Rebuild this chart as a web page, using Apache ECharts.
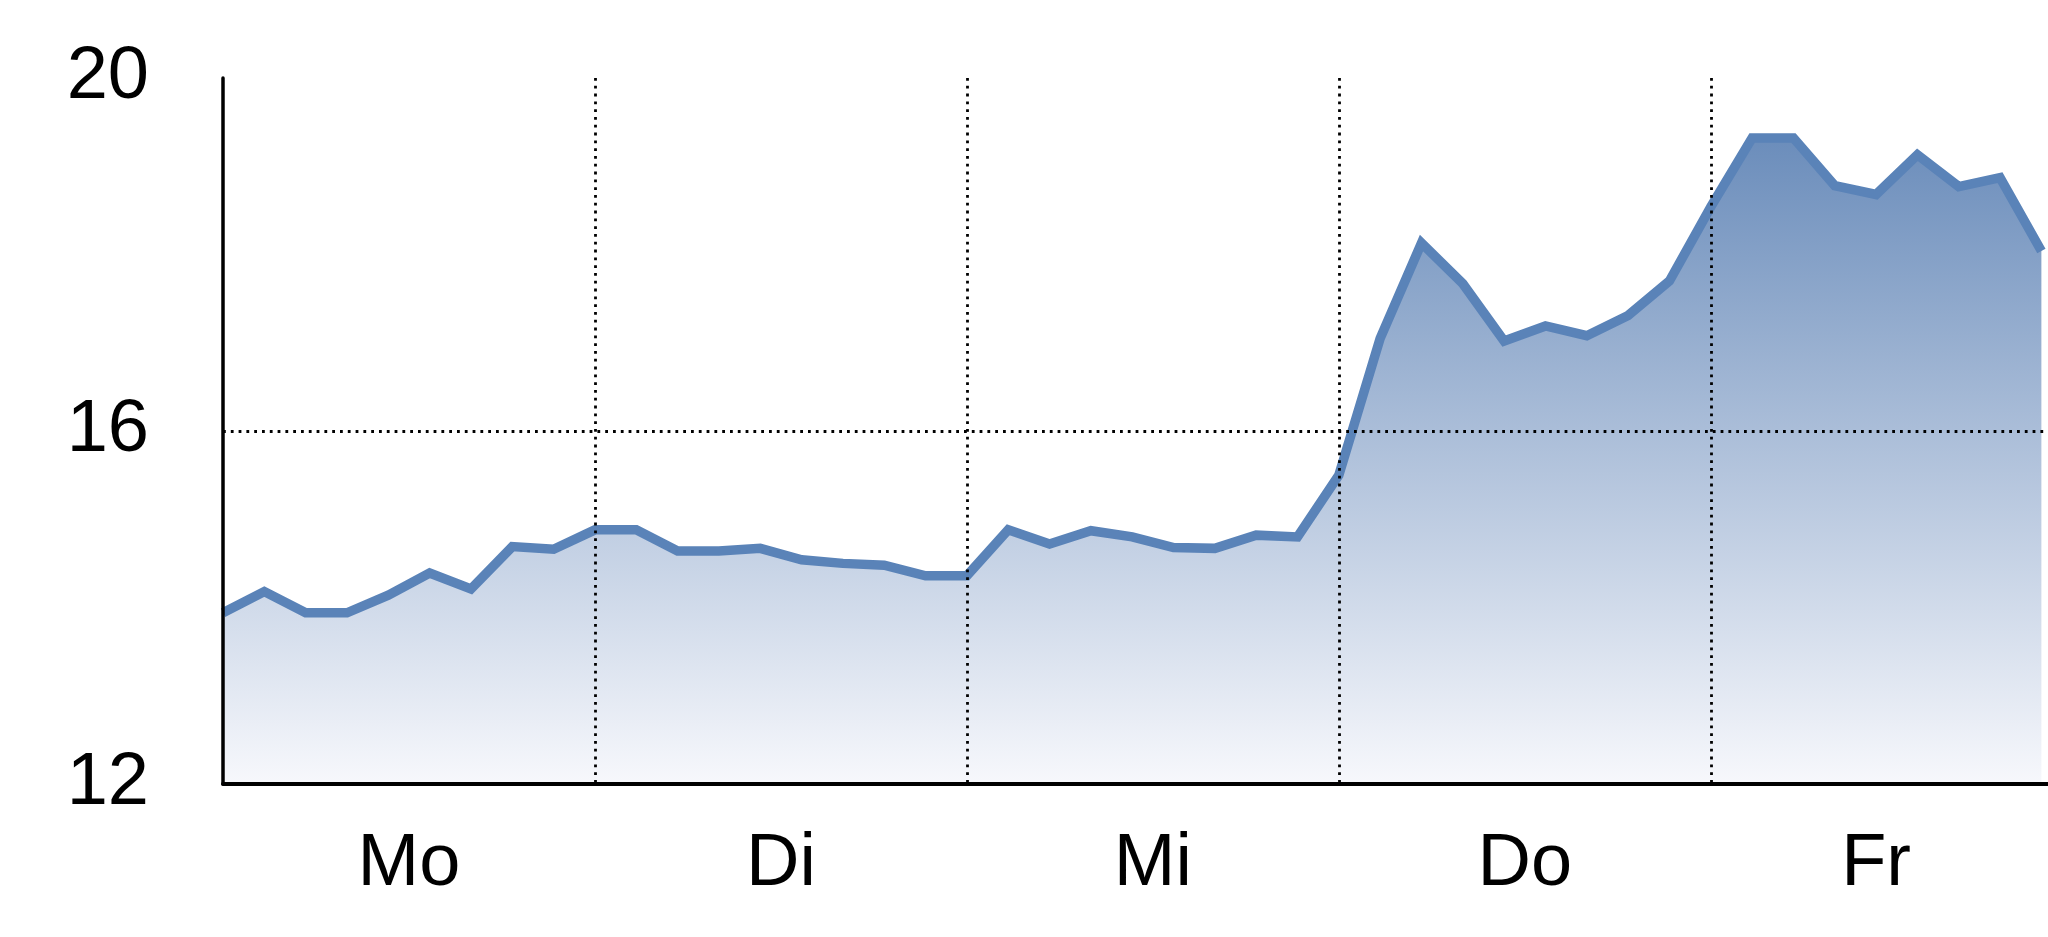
<!DOCTYPE html>
<html>
<head>
<meta charset="utf-8">
<script src="https://cdn.jsdelivr.net/npm/echarts@6/dist/echarts.min.js"></script>
<style>
html,body{margin:0;padding:0;background:#ffffff;}
#chart{width:2048px;height:937px;}
</style>
</head>
<body>
<div id="chart"></div>
<script>
// ---- data ----
const days = ['Mo', 'Di', 'Mi', 'Do', 'Fr'];
const pointsPerDay = 9;
const values = [
  13.94, 14.18, 13.94, 13.94, 14.14, 14.39, 14.21, 14.69, 14.66,
  14.88, 14.88, 14.64, 14.64, 14.67, 14.54, 14.50, 14.48, 14.36,
  14.36, 14.88, 14.72, 14.87, 14.80, 14.68, 14.67, 14.82, 14.80,
  15.50, 17.05, 18.13, 17.67, 17.02, 17.19, 17.08, 17.31, 17.70,
  18.54, 19.32, 19.32, 18.78, 18.68, 19.13, 18.77, 18.87, 18.04
];
const yTicks = [12, 16, 20];

// ---- derived ----
const lastIndex = values.length - 1;
const seriesData = values.map((v, i) => [i, v]);
const dayCenters = days.map((d, k) => {
  const s = k * pointsPerDay;
  const e = Math.min(s + pointsPerDay, lastIndex);
  return (s + e) / 2;
});
const font = "'Liberation Sans Narrow', 'Arial Narrow', 'Liberation Sans', Arial, sans-serif";
const dotted = { color: '#000', width: 2.8, type: [2.8, 5.0] };

const chart = echarts.init(document.getElementById('chart'), null, { renderer: 'canvas' });
chart.setOption({
  animation: false,
  backgroundColor: '#ffffff',
  grid: { left: 223, right: 0, top: 78, bottom: 153, containLabel: false },
  xAxis: {
    type: 'value',
    min: 0,
    max: lastIndex + 0.16,
    interval: pointsPerDay,
    axisLine: { show: true, lineStyle: { color: '#000', width: 4 } },
    axisTick: { show: false },
    splitLine: { show: true, showMinLine: false, showMaxLine: false, lineStyle: dotted },
    axisLabel: {
      customValues: dayCenters,
      formatter: (val) => {
        const k = dayCenters.findIndex(c => Math.abs(c - val) < 1e-6);
        return k >= 0 ? days[k] : '';
      },
      color: '#000',
      fontSize: 74,
      fontFamily: font,
      margin: 44
    }
  },
  yAxis: {
    type: 'value',
    min: yTicks[0],
    max: yTicks[yTicks.length - 1],
    interval: yTicks[1] - yTicks[0],
    axisLine: { show: true, lineStyle: { color: '#000', width: 3.5 } },
    axisTick: { show: false },
    splitLine: { show: true, showMinLine: false, showMaxLine: false, lineStyle: dotted },
    axisLabel: {
      color: '#000',
      fontSize: 74,
      fontFamily: font,
      margin: 74
    }
  },
  series: [{
    type: 'line',
    data: seriesData,
    showSymbol: false,
    symbol: 'none',
    lineStyle: { color: '#5a83b8', width: 9.5, join: 'miter' },
    areaStyle: {
      opacity: 1,
      color: new echarts.graphic.LinearGradient(0, 0, 0, 1, [
        { offset: 0, color: '#6b8dbb' },
        { offset: 1, color: '#f7f8fc' }
      ])
    },
    z: -1
  }]
});
</script>
</body>
</html>
